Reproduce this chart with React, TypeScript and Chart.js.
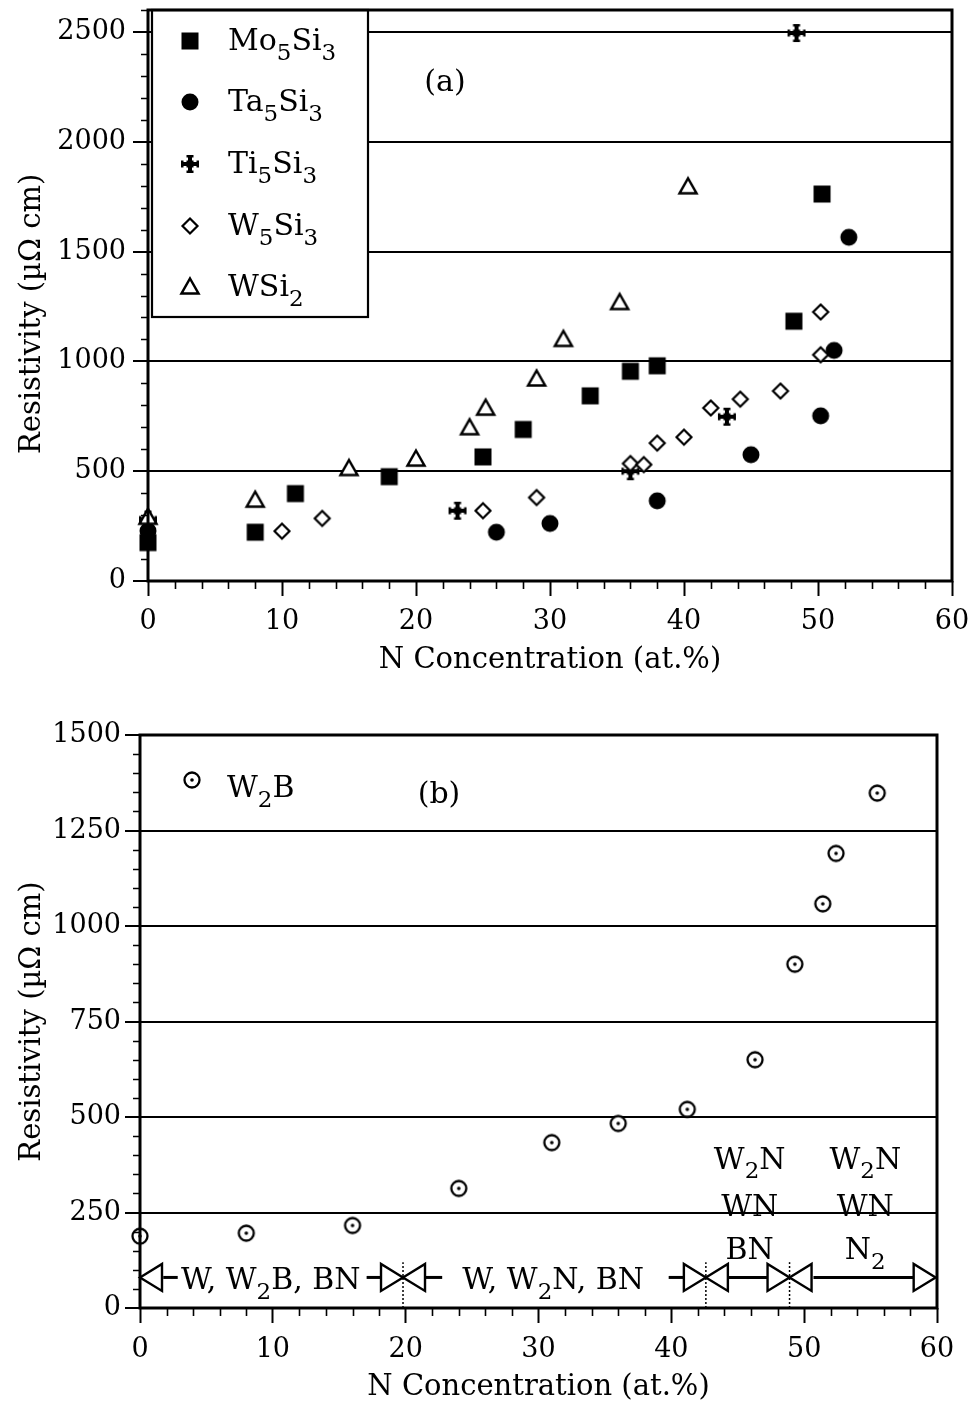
import React, { useEffect, useRef } from 'react';
import { Chart, registerables } from 'chart.js';
Chart.register(...registerables);

const FONT = '"DejaVu Serif", serif';

// ---------- data (a) ----------
const mo5si3: [number, number][] = [[0, 175], [8, 222], [11, 398], [18, 475], [25, 565], [28, 690], [33, 843], [36, 955], [38, 980], [48.2, 1183], [50.3, 1762]];
const ta5si3: [number, number][] = [[0, 228], [26, 222], [30, 262], [38, 365], [45, 575], [50.2, 752], [51.2, 1050], [52.3, 1565]];
const ti5si3: [number, number][] = [[0, 280], [23.1, 320], [36, 500], [43.2, 748], [48.4, 2495]];
const w5si3: [number, number][] = [[10, 227], [13, 285], [25, 320], [29, 380], [36, 535], [37, 530], [38, 628], [40, 655], [42, 788], [44.2, 828], [47.2, 865], [50.2, 1030], [50.2, 1225]];
const wsi2: [number, number][] = [[0, 290], [8, 368], [15, 512], [20, 555], [24, 698], [25.2, 787], [29, 920], [31, 1100], [35.2, 1268], [40.3, 1795]];
const topYTicks = [0, 500, 1000, 1500, 2000, 2500];

// ---------- data (b) ----------
const w2b: [number, number][] = [[0, 188], [8, 196], [16, 216], [24, 313], [31, 433], [36, 483], [41.2, 520], [46.3, 650], [49.3, 900], [51.4, 1058], [52.4, 1190], [55.5, 1348]];
const phaseBounds = [0, 19.8, 42.6, 48.9, 59.9];
const phaseLines: [number, number][] = [[1.75, 2.84], [17.06, 18.28], [21.5, 22.75], [39.8, 41.0], [44.27, 47.3], [50.7, 58.3]];
const arrowY = 80;
const dottedTop = 120;
type Part = [string, boolean?];
const phaseLabels: { x: number; y: number; parts: Part[] }[] = [
  { x: 9.85, y: 50, parts: [['W, W'], ['2', true], ['B, BN']] },
  { x: 31.1, y: 50, parts: [['W, W'], ['2', true], ['N, BN']] },
  { x: 45.9, y: 365, parts: [['W'], ['2', true], ['N']] },
  { x: 45.9, y: 241, parts: [['WN']] },
  { x: 45.9, y: 127, parts: [['BN']] },
  { x: 54.6, y: 365, parts: [['W'], ['2', true], ['N']] },
  { x: 54.6, y: 241, parts: [['WN']] },
  { x: 54.6, y: 127, parts: [['N'], ['2', true]] },
];

const topLegend: { marker: string; parts: Part[] }[] = [
  { marker: 'square', parts: [['Mo'], ['5', true], ['Si'], ['3', true]] },
  { marker: 'circle', parts: [['Ta'], ['5', true], ['Si'], ['3', true]] },
  { marker: 'cross', parts: [['Ti'], ['5', true], ['Si'], ['3', true]] },
  { marker: 'diamond', parts: [['W'], ['5', true], ['Si'], ['3', true]] },
  { marker: 'triangle', parts: [['WSi'], ['2', true]] },
];

function drawMarker(ctx: CanvasRenderingContext2D, type: string, x: number, y: number) {
  ctx.save();
  ctx.translate(x, y);
  ctx.fillStyle = '#000';
  ctx.strokeStyle = '#000';
  ctx.lineJoin = 'miter';
  if (type === 'square') {
    ctx.fillRect(-8.5, -8.5, 17, 17);
  } else if (type === 'circle') {
    ctx.beginPath(); ctx.arc(0, 0, 8.5, 0, Math.PI * 2); ctx.fill();
  } else if (type === 'diamond') {
    ctx.lineWidth = 2.2;
    ctx.beginPath(); ctx.moveTo(0, -7.5); ctx.lineTo(7.5, 0); ctx.lineTo(0, 7.5); ctx.lineTo(-7.5, 0); ctx.closePath();
    ctx.fillStyle = '#fff'; ctx.fill(); ctx.stroke();
  } else if (type === 'triangle') {
    ctx.lineWidth = 2.5;
    ctx.beginPath(); ctx.moveTo(0, -8.5); ctx.lineTo(8.5, 6.5); ctx.lineTo(-8.5, 6.5); ctx.closePath();
    ctx.fillStyle = '#fff'; ctx.fill(); ctx.stroke();
  } else if (type === 'cross') {
    ctx.fillRect(-2, -8, 4, 16);
    ctx.fillRect(-8, -2, 16, 4);
    ctx.fillRect(-3.5, -3.5, 7, 7);
    ctx.fillRect(-3.5, -9, 7, 2.5);
    ctx.fillRect(-3.5, 6.5, 7, 2.5);
    ctx.fillRect(-9, -3.5, 2.5, 7);
    ctx.fillRect(6.5, -3.5, 2.5, 7);
  } else if (type === 'odot') {
    ctx.lineWidth = 2.3;
    ctx.beginPath(); ctx.arc(0, 0, 7.5, 0, Math.PI * 2); ctx.fillStyle = '#fff'; ctx.fill(); ctx.stroke();
    ctx.fillStyle = '#000';
    ctx.beginPath(); ctx.arc(0, 0, 1.8, 0, Math.PI * 2); ctx.fill();
  }
  ctx.restore();
}

function markerCanvas(type: string): HTMLCanvasElement {
  const c = document.createElement('canvas');
  c.width = 26; c.height = 26;
  const ctx = c.getContext('2d')!;
  drawMarker(ctx, type, 13, 13);
  return c;
}

function partsWidth(ctx: CanvasRenderingContext2D, parts: Part[], size: number) {
  let w = 0;
  for (const [t, sub] of parts) {
    ctx.font = `${sub ? Math.round(size * 0.75) : size}px ${FONT}`;
    w += ctx.measureText(t).width;
  }
  return w;
}

function drawRich(ctx: CanvasRenderingContext2D, parts: Part[], x: number, y: number, size: number, align: 'left' | 'center') {
  ctx.save();
  ctx.fillStyle = '#000';
  ctx.textBaseline = 'alphabetic';
  ctx.textAlign = 'left';
  let cx = align === 'center' ? x - partsWidth(ctx, parts, size) / 2 : x;
  for (const [t, sub] of parts) {
    ctx.font = `${sub ? Math.round(size * 0.75) : size}px ${FONT}`;
    ctx.fillText(t, cx, sub ? y + size * 0.33 : y);
    cx += ctx.measureText(t).width;
  }
  ctx.restore();
}

function drawFrameAndMinor(chart: any, yMinorStep: number, yMajorStep: number, yMax: number) {
  const { ctx, chartArea: a, scales } = chart;
  const xs = scales.x, ys = scales.y;
  ctx.save();
  ctx.strokeStyle = '#000';
  ctx.lineWidth = 1.6;
  ctx.beginPath();
  for (let v = 0; v <= 60; v += 2) {
    if (v % 10 === 0) continue;
    const px = Math.round(xs.getPixelForValue(v)) + 0.5;
    ctx.moveTo(px, a.bottom); ctx.lineTo(px, a.bottom + 8);
  }
  for (let v = 0; v <= yMax; v += yMinorStep) {
    if (v % yMajorStep === 0) continue;
    const py = Math.round(ys.getPixelForValue(v)) + 0.5;
    ctx.moveTo(a.left - 7, py); ctx.lineTo(a.left, py);
  }
  ctx.stroke();
  ctx.lineWidth = 3;
  ctx.strokeRect(a.left, a.top, a.right - a.left, a.bottom - a.top);
  ctx.restore();
}

const topDecor = {
  id: 'topDecor',
  afterDraw(chart: any) {
    const { ctx, chartArea: a } = chart;
    // legend box
    ctx.save();
    ctx.fillStyle = '#fff';
    ctx.fillRect(a.left + 4, a.top, 216, 307);
    ctx.strokeStyle = '#000';
    ctx.lineWidth = 2.2;
    ctx.strokeRect(a.left + 4, a.top, 216, 307);
    ctx.restore();
    const rows = [31, 92, 154, 216, 277];
    topLegend.forEach((it, i) => {
      drawMarker(ctx, it.marker, a.left + 42, a.top + rows[i]);
      drawRich(ctx, it.parts, a.left + 80, a.top + rows[i] + 9, 30, 'left');
    });
    drawRich(ctx, [['(a)']], a.left + 297, a.top + 81, 30, 'center');
    drawFrameAndMinor(chart, 100, 500, 2600);
  },
};

function arrowHead(ctx: CanvasRenderingContext2D, tip: number, y: number, dir: number) {
  const L = 22, h = 13.5;
  ctx.beginPath();
  ctx.moveTo(tip, y);
  ctx.lineTo(tip - dir * L, y - h);
  ctx.lineTo(tip - dir * L, y + h);
  ctx.closePath();
  ctx.fillStyle = '#fff';
  ctx.fill();
  ctx.stroke();
}

const bottomDecor = {
  id: 'bottomDecor',
  afterDatasetsDraw(chart: any) {
    const { ctx, scales } = chart;
    const xs = scales.x, ys = scales.y;
    const ay = ys.getPixelForValue(arrowY);
    ctx.save();
    ctx.strokeStyle = '#000';
    // dotted separators
    ctx.lineWidth = 1.5;
    ctx.setLineDash([2, 2]);
    for (let i = 1; i < phaseBounds.length - 1; i++) {
      const px = xs.getPixelForValue(phaseBounds[i]);
      ctx.beginPath(); ctx.moveTo(px, ys.getPixelForValue(0)); ctx.lineTo(px, ys.getPixelForValue(dottedTop)); ctx.stroke();
    }
    ctx.setLineDash([]);
    // connecting lines
    ctx.lineWidth = 3;
    for (const [f, t] of phaseLines) {
      ctx.beginPath(); ctx.moveTo(xs.getPixelForValue(f), ay); ctx.lineTo(xs.getPixelForValue(t), ay); ctx.stroke();
    }
    // arrowheads
    ctx.lineWidth = 2.4;
    ctx.lineJoin = 'miter';
    for (let i = 0; i < phaseBounds.length - 1; i++) {
      arrowHead(ctx, xs.getPixelForValue(phaseBounds[i]), ay, -1);
      arrowHead(ctx, xs.getPixelForValue(phaseBounds[i + 1]), ay, 1);
    }
    ctx.restore();
    for (const l of phaseLabels) {
      drawRich(ctx, l.parts, xs.getPixelForValue(l.x), ys.getPixelForValue(l.y), 30, 'center');
    }
  },
  afterDraw(chart: any) {
    const { ctx, chartArea: a } = chart;
    drawMarker(ctx, 'odot', a.left + 52, a.top + 45);
    drawRich(ctx, [['W'], ['2', true], ['B']], a.left + 87, a.top + 62, 30, 'left');
    drawRich(ctx, [['(b)']], a.left + 299, a.top + 68, 30, 'center');
    drawFrameAndMinor(chart, 50, 250, 1500);
  },
};

function baseScales(opts: { xH: number; yW: number; yMax: number; yStep: number; xTitlePad: number; xTickPad: number; yTickPad: number; yTitle: string }) {
  return {
    x: {
      type: 'linear', min: 0, max: 60, position: 'bottom',
      ticks: { stepSize: 10, font: { family: FONT, size: 27 }, color: '#000', padding: opts.xTickPad, maxRotation: 0, autoSkip: false, callback: (v: any) => String(v) },
      grid: { drawOnChartArea: false, drawTicks: true, tickLength: 15, tickWidth: 2, tickColor: '#000' },
      border: { display: false },
      title: { display: true, text: 'N Concentration (at.%)', font: { family: FONT, size: 29 }, color: '#000', padding: { top: 0, bottom: opts.xTitlePad } },
      afterFit: (s: any) => { s.height = opts.xH; s.paddingLeft = 0; s.paddingRight = 0; },
    },
    y: {
      type: 'linear', min: 0, max: opts.yMax,
      ticks: { stepSize: opts.yStep, font: { family: FONT, size: 27 }, color: '#000', padding: opts.yTickPad, callback: (v: any) => String(v) },
      grid: {
        color: (c: any) => (c.tick && c.tick.value > 0 && c.tick.value < opts.yMax) ? '#000' : 'rgba(0,0,0,0)',
        lineWidth: 2, drawTicks: true, tickLength: 15, tickWidth: 2, tickColor: '#000',
      },
      border: { display: false },
      title: { display: true, text: opts.yTitle, font: { family: FONT, size: 29 }, color: '#000', padding: { top: 15, bottom: 0 } },
      afterFit: (s: any) => { s.width = opts.yW; s.paddingTop = 0; s.paddingBottom = 0; },
    },
  } as any;
}

function toPts(arr: [number, number][]) { return arr.map(([x, y]) => ({ x, y })); }

export default function App() {
  const topRef = useRef<HTMLCanvasElement>(null);
  const botRef = useRef<HTMLCanvasElement>(null);

  useEffect(() => {
    Chart.defaults.font.family = FONT;
    const mk = (t: string) => markerCanvas(t);
    const topSeries = [
      { label: 'Mo5Si3', data: mo5si3, m: 'square' },
      { label: 'WSi2', data: wsi2, m: 'triangle' },
      { label: 'W5Si3', data: w5si3, m: 'diamond' },
      { label: 'Ta5Si3', data: ta5si3, m: 'circle' },
      { label: 'Ti5Si3', data: ti5si3, m: 'cross' },
    ];
    const topScales = baseScales({ xH: 109, yW: 148, yMax: 2600, yStep: 500, xTitlePad: 12, xTickPad: 10, yTickPad: 7, yTitle: 'Resistivity (µΩ cm)    ' });
    topScales.y.afterBuildTicks = (s: any) => { s.ticks = topYTicks.map((v) => ({ value: v })); };
    const top = new Chart(topRef.current!, {
      type: 'scatter',
      data: {
        datasets: topSeries.map((s) => ({
          label: s.label, data: toPts(s.data), pointStyle: mk(s.m) as any, pointRadius: 9, showLine: false, clip: false as any,
        })),
      },
      options: {
        responsive: false, animation: false, events: [], devicePixelRatio: 1,
        layout: { padding: { left: 0, right: 21, top: 6, bottom: 0 } },
        plugins: { legend: { display: false }, tooltip: { enabled: false } },
        scales: topScales,
      },
      plugins: [topDecor],
    } as any);

    const botScales = baseScales({ xH: 100, yW: 140, yMax: 1500, yStep: 250, xTitlePad: 3, xTickPad: 11, yTickPad: 4, yTitle: 'Resistivity (µΩ cm)' });
    const bot = new Chart(botRef.current!, {
      type: 'scatter',
      data: {
        datasets: [{ label: 'W2B', data: toPts(w2b), pointStyle: mk('odot') as any, pointRadius: 8, showLine: false, clip: false as any }],
      },
      options: {
        responsive: false, animation: false, events: [], devicePixelRatio: 1,
        layout: { padding: { left: 0, right: 36, top: 45, bottom: 0 } },
        plugins: { legend: { display: false }, tooltip: { enabled: false } },
        scales: botScales,
      },
      plugins: [bottomDecor],
    } as any);

    return () => { top.destroy(); bot.destroy(); };
  }, []);

  return (
    <div style={{ position: 'absolute', left: 0, top: 0, width: 973, height: 1408, background: '#fff', overflow: 'hidden' }}>
      <canvas ref={topRef} width={973} height={690} style={{ position: 'absolute', left: 0, top: 0, width: 973, height: 690 }} />
      <canvas ref={botRef} width={973} height={718} style={{ position: 'absolute', left: 0, top: 690, width: 973, height: 718 }} />
    </div>
  );
}
